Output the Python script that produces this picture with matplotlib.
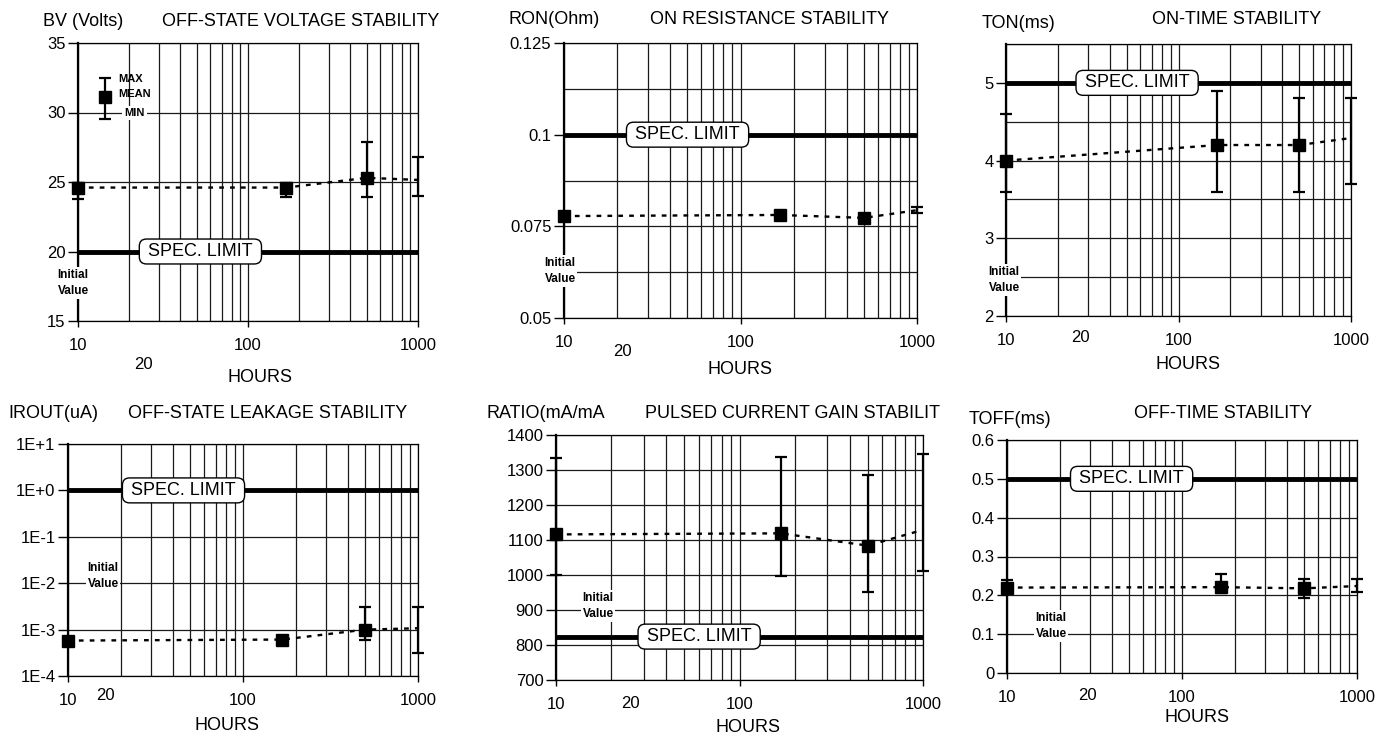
import matplotlib.pyplot as plt
from matplotlib.ticker import FixedLocator, NullFormatter
import numpy as np

plt.rcParams['font.family'] = ['Liberation Sans', 'DejaVu Sans']

W, H = 1379, 740

hours = [10, 168, 500, 1000]
minor_hours = [20, 30, 40, 50, 60, 70, 80, 90, 200, 300, 400, 500, 600, 700, 800, 900]

# off-state voltage, BV (Volts)
bv_mean = [24.6, 24.6, 25.3, 25.15]
bv_min = [23.8, 23.9, 23.9, 24.0]
bv_max = [24.9, 24.9, 27.9, 26.8]
bv_spec = 20

# on resistance, RON (Ohm)
ron_mean = [0.0778, 0.0781, 0.0773, 0.0794]
ron_min = [0.0775, 0.0778, 0.0770, 0.0786]
ron_max = [0.0781, 0.0784, 0.0776, 0.0802]
ron_spec = 0.1

# on time, TON (ms)
ton_mean = [4.0, 4.2, 4.2, 4.29]
ton_min = [3.6, 3.6, 3.6, 3.7]
ton_max = [4.6, 4.9, 4.8, 4.8]
ton_spec = 5

# off-state leakage, IROUT (uA)
irout_mean = [5.8e-4, 6.1e-4, 1.0e-3, 1.07e-3]
irout_min = [5.3e-4, 5.6e-4, 6.1e-4, 3.1e-4]
irout_max = [6.4e-4, 6.7e-4, 3.0e-3, 3.0e-3]
irout_spec = 1.0

# pulsed current gain, RATIO (mA/mA)
ratio_mean = [1116, 1119, 1084, 1129]
ratio_min = [999, 996, 951, 1011]
ratio_max = [1335, 1336, 1286, 1346]
ratio_spec = 824

# off time, TOFF (ms)
toff_mean = [0.22, 0.221, 0.218, 0.224]
toff_min = [0.205, 0.207, 0.194, 0.209]
toff_max = [0.24, 0.254, 0.242, 0.243]
toff_spec = 0.5

# legend marker (max / mean / min) drawn inside the first panel
legend_x = 14.4
legend_mean, legend_min, legend_max = 31.1, 29.5, 32.5

TICK_FS = 12
LABEL_FS = 13

fig = plt.figure(figsize=(W / 100, H / 100), dpi=100)


def fx(x):
    return x / W


def fy(y):
    return 1 - y / H


def ftext(x, y, s, **kw):
    fig.text(fx(x), fy(y), s, **kw)


def panel(box, ylim, yticks, ylabels, yminor, spec, spec_x, mean, lo, hi, logy=False):
    x0, x1, y0, y1 = box
    ax = fig.add_axes([fx(x0), fy(y1), (x1 - x0) / W, (y1 - y0) / H])
    ax.set_xscale('log')
    if logy:
        ax.set_yscale('log')
    ax.set_xlim(10, 1000)
    ax.set_ylim(*ylim)

    ax.xaxis.set_major_locator(FixedLocator([10, 100, 1000]))
    ax.set_xticklabels(['10', '100', '1000'])
    ax.xaxis.set_minor_locator(FixedLocator(minor_hours))
    ax.xaxis.set_minor_formatter(NullFormatter())
    ax.yaxis.set_major_locator(FixedLocator(yticks))
    ax.set_yticklabels(ylabels)
    ax.yaxis.set_minor_locator(FixedLocator(yminor))
    ax.yaxis.set_minor_formatter(NullFormatter())

    ax.grid(True, which='both', color='#1a1a1a', lw=0.9, zorder=0)
    ax.set_axisbelow(True)
    ax.tick_params(which='minor', length=0)
    ax.tick_params(axis='y', which='major', length=7, width=1, pad=2, labelsize=TICK_FS)
    ax.tick_params(axis='x', which='major', length=4, width=1, pad=8, labelsize=TICK_FS)
    for side, sp in ax.spines.items():
        sp.set_color('black')
        sp.set_linewidth(1.6 if side == 'left' else 0.9)

    ax.axhline(spec, color='black', lw=3.5, zorder=3)
    ax.text(spec_x, spec, ' SPEC. LIMIT ', transform=ax.get_yaxis_transform(),
            ha='center', va='center', fontsize=13, zorder=7,
            bbox=dict(boxstyle='round,pad=0.22,rounding_size=0.4', fc='white', ec='black', lw=1))

    err = [np.subtract(mean, lo), np.subtract(hi, mean)]
    eb = ax.errorbar(hours, mean, yerr=err, fmt='none', ecolor='black',
                     elinewidth=1.6, capsize=4.3, capthick=1.6, zorder=5)
    for art in list(eb.lines[1]) + list(eb.lines[2]):
        art.set_clip_on(False)
    ax.plot(hours, mean, color='black', lw=1.7, ls=(0, (2, 2.6)), zorder=5, clip_on=False)
    ax.plot(hours[:3], mean[:3], 's', color='black', ms=9, zorder=6, clip_on=False)
    return ax


def initial_value(x, y):
    ftext(x, y, 'Initial\nValue', ha='center', va='center', fontsize=8.5,
          weight='bold', linespacing=1.45, zorder=10,
          bbox=dict(boxstyle='square,pad=0.15', fc='white', ec='none'))


# ---- top row ----
ax1 = panel((78, 418, 43, 321), (15, 35), [15, 20, 25, 30, 35],
            ['15', '20', '25', '30', '35'], [], bv_spec, 0.36,
            bv_mean, bv_min, bv_max)
eb = ax1.errorbar([legend_x], [legend_mean],
                  yerr=[[legend_mean - legend_min], [legend_max - legend_mean]],
                  fmt='s', color='black', ms=9, elinewidth=1.6, capsize=4.3, capthick=1.6, zorder=6)
ftext(118, 79, 'MAX', ha='left', va='center', fontsize=8, weight='bold')
ftext(118, 94, 'MEAN', ha='left', va='center', fontsize=8, weight='bold')
ftext(124, 113, 'MIN', ha='left', va='center', fontsize=8, weight='bold', zorder=10,
      bbox=dict(boxstyle='square,pad=0.2', fc='white', ec='none'))
ftext(43, 22, 'BV (Volts)', ha='left', va='center', fontsize=LABEL_FS)
ftext(301, 22, 'OFF-STATE VOLTAGE STABILITY', ha='center', va='center', fontsize=LABEL_FS)
ftext(143, 365, '20', ha='center', va='center', fontsize=TICK_FS)
ftext(260, 378, 'HOURS', ha='center', va='center', fontsize=LABEL_FS)
initial_value(73, 283)

ax2 = panel((564, 917, 43, 318), (0.05, 0.125), [0.05, 0.075, 0.1, 0.125],
            ['0.05', '0.075', '0.1', '0.125'], [0.0625, 0.0875, 0.1125],
            ron_spec, 0.35, ron_mean, ron_min, ron_max)
ftext(508, 20, 'RON(Ohm)', ha='left', va='center', fontsize=LABEL_FS)
ftext(770, 20, 'ON RESISTANCE STABILITY', ha='center', va='center', fontsize=LABEL_FS)
ftext(622, 352, '20', ha='center', va='center', fontsize=TICK_FS)
ftext(740, 370, 'HOURS', ha='center', va='center', fontsize=LABEL_FS)
initial_value(560, 271)

ax3 = panel((1006, 1351, 44, 316), (2, 5.5), [2, 3, 4, 5], ['2', '3', '4', '5'],
            [2.5, 3.5, 4.5, 5.5], ton_spec, 0.38, ton_mean, ton_min, ton_max)
ftext(982, 23, 'TON(ms)', ha='left', va='center', fontsize=LABEL_FS)
ftext(1237, 20, 'ON-TIME STABILITY', ha='center', va='center', fontsize=LABEL_FS)
ftext(1080, 338, '20', ha='center', va='center', fontsize=TICK_FS)
ftext(1188, 365, 'HOURS', ha='center', va='center', fontsize=LABEL_FS)
initial_value(1004, 280)

# ---- bottom row ----
ax4 = panel((68, 418, 444, 676), (1e-4, 1e1), [1e-4, 1e-3, 1e-2, 1e-1, 1e0, 1e1],
            ['1E-4', '1E-3', '1E-2', '1E-1', '1E+0', '1E+1'], [],
            irout_spec, 0.33, irout_mean, irout_min, irout_max, logy=True)
ftext(8, 413, 'IROUT(uA)', ha='left', va='center', fontsize=LABEL_FS)
ftext(268, 413, 'OFF-STATE LEAKAGE STABILITY', ha='center', va='center', fontsize=LABEL_FS)
ftext(105, 695, '20', ha='center', va='center', fontsize=TICK_FS)
ftext(227, 725, 'HOURS', ha='center', va='center', fontsize=LABEL_FS)
initial_value(103, 576)

ax5 = panel((556, 923, 435, 680), (700, 1400), list(range(700, 1401, 100)),
            [str(v) for v in range(700, 1401, 100)], [],
            ratio_spec, 0.39, ratio_mean, ratio_min, ratio_max)
ftext(486, 413, 'RATIO(mA/mA', ha='left', va='center', fontsize=LABEL_FS)
ftext(645, 414, 'PULSED CURRENT GAIN STABILIT', ha='left', va='center', fontsize=LABEL_FS)
ftext(630, 703, '20', ha='center', va='center', fontsize=TICK_FS)
ftext(748, 728, 'HOURS', ha='center', va='center', fontsize=LABEL_FS)
initial_value(598, 606)

ax6 = panel((1007, 1357, 440, 673), (0, 0.6), [0, 0.1, 0.2, 0.3, 0.4, 0.5, 0.6],
            ['0', '0.1', '0.2', '0.3', '0.4', '0.5', '0.6'], [],
            toff_spec, 0.356, toff_mean, toff_min, toff_max)
ftext(969, 419, 'TOFF(ms)', ha='left', va='center', fontsize=LABEL_FS)
ftext(1223, 413, 'OFF-TIME STABILITY', ha='center', va='center', fontsize=LABEL_FS)
ftext(1087, 695, '20', ha='center', va='center', fontsize=TICK_FS)
ftext(1197, 718, 'HOURS', ha='center', va='center', fontsize=LABEL_FS)
initial_value(1051, 626)

fig.savefig('out.png', dpi=100, facecolor='white')
